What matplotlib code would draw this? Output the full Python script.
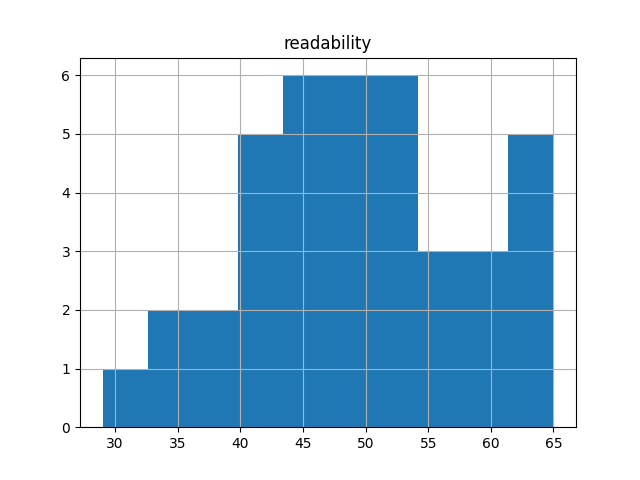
import matplotlib
matplotlib.use("Agg")
import matplotlib.pyplot as plt
import numpy as np

# histogram of readability scores, 10 bins between min and max
x_min = 29.0
x_max = 65.0
counts = [1, 2, 2, 5, 6, 6, 6, 3, 3, 5]

edges = np.linspace(x_min, x_max, len(counts) + 1)
centers = (edges[:-1] + edges[1:]) / 2

fig, ax = plt.subplots(figsize=(6.4, 4.8), dpi=100)
ax.hist(centers, bins=edges, weights=counts, color='#1f77b4')
ax.grid(True)
ax.set_title('readability')
fig.savefig('out.png')
